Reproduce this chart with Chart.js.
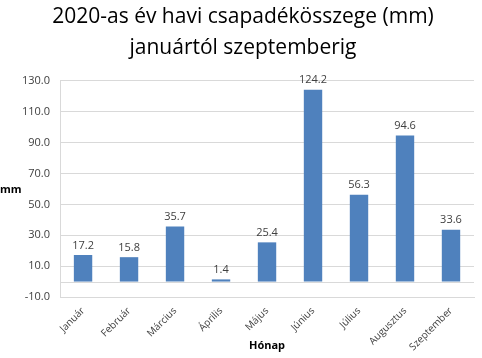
<!DOCTYPE html>
<html lang="hu">
<head>
<meta charset="UTF-8">
<title>Csapadék 2020</title>
<script src="https://cdn.jsdelivr.net/npm/chart.js"></script>
<style>
  html, body { margin: 0; padding: 0; background: #fff; }
  #wrap { width: 482px; height: 358px; }
</style>
</head>
<body>
<div id="wrap"><canvas id="myChart" width="482" height="358"></canvas></div>
<script>
const months = ['Január', 'Február', 'Március', 'Április', 'Május', 'Június', 'Július', 'Augusztus', 'Szeptember'];
const rainfall = [17.2, 15.8, 35.7, 1.4, 25.4, 124.2, 56.3, 94.6, 33.6];
const titleLines = ['2020-as év havi csapadékösszege (mm)', 'januártól szeptemberig'];

const fontFamily = "'Open Sans', 'DejaVu Sans', sans-serif";

// value labels above bars, zero line, and the horizontal "mm" axis title
const extras = {
    id: 'extras',
    beforeDatasetsDraw(chart) {
        const { ctx, chartArea, scales } = chart;
        const y0 = Math.round(scales.y.getPixelForValue(0)) + 0.5;
        ctx.save();
        ctx.strokeStyle = '#d9d9d9';
        ctx.lineWidth = 1;
        ctx.beginPath();
        ctx.moveTo(chartArea.left, y0);
        ctx.lineTo(chartArea.right, y0);
        ctx.stroke();
        ctx.restore();
    },
    afterDatasetsDraw(chart) {
        const { ctx } = chart;
        const meta = chart.getDatasetMeta(0);
        ctx.save();
        ctx.font = '11px ' + fontFamily;
        ctx.fillStyle = '#404040';
        ctx.textAlign = 'center';
        ctx.textBaseline = 'bottom';
        meta.data.forEach((bar, i) => {
            ctx.fillText(rainfall[i].toFixed(1), bar.x, bar.y - 4);
        });
        ctx.font = 'bold 11px ' + fontFamily;
        ctx.textAlign = 'left';
        ctx.textBaseline = 'middle';
        ctx.fillStyle = '#000';
        ctx.fillText('mm', 0, 190);
        ctx.restore();
    }
};

const ctx = document.getElementById('myChart').getContext('2d');
new Chart(ctx, {
    type: 'bar',
    data: {
        labels: months,
        datasets: [{
            data: rainfall,
            backgroundColor: '#4f81bd',
            borderWidth: 0,
            barPercentage: 0.4,
            categoryPercentage: 1.0
        }]
    },
    options: {
        responsive: false,
        animation: false,
        layout: { padding: { left: 12, right: 8, top: 0, bottom: 6 } },
        plugins: {
            legend: { display: false },
            tooltip: { enabled: false },
            title: {
                display: true,
                text: titleLines,
                color: '#000',
                font: { family: fontFamily, size: 21, weight: 'normal', lineHeight: 1.45 },
                padding: { top: 2, bottom: 18 }
            }
        },
        scales: {
            x: {
                grid: { display: false },
                border: { color: '#d9d9d9' },
                afterFit: axis => { axis.height = 55; },
                ticks: {
                    color: '#404040',
                    font: { family: fontFamily, size: 10 },
                    maxRotation: 45,
                    minRotation: 45,
                    padding: 0
                },
                title: {
                    display: true,
                    text: 'Hónap',
                    color: '#000',
                    font: { family: fontFamily, size: 11, weight: 'bold' },
                    padding: { top: 0, bottom: 0 }
                }
            },
            y: {
                min: -10,
                max: 130,
                border: { color: '#d9d9d9' },
                grid: { color: '#d9d9d9', drawTicks: false },
                ticks: {
                    stepSize: 20,
                    color: '#404040',
                    font: { family: fontFamily, size: 11 },
                    padding: 10,
                    callback: v => Number(v).toFixed(1)
                }
            }
        }
    },
    plugins: [extras]
});
</script>
</body>
</html>
